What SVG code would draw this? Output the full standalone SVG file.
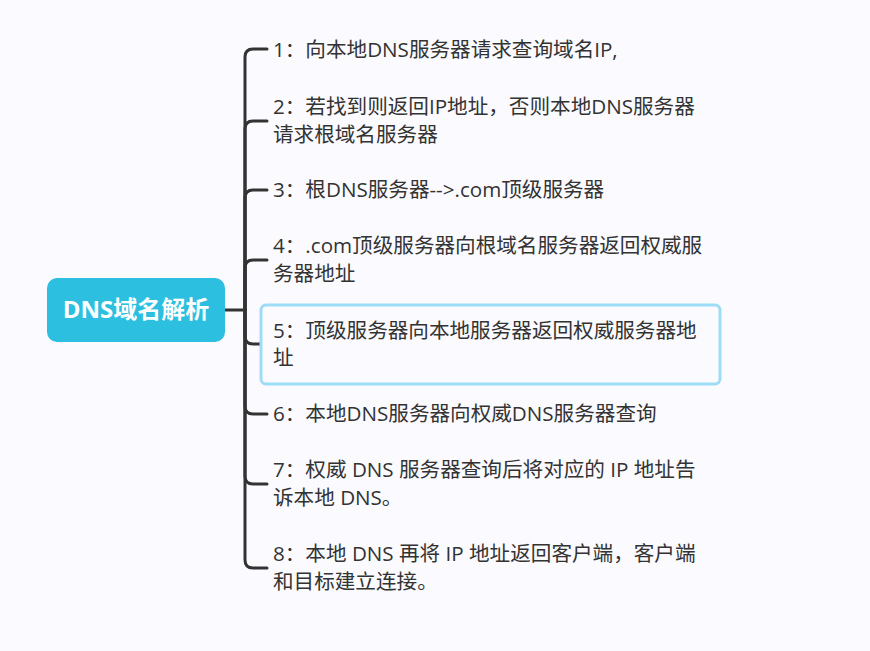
<svg xmlns="http://www.w3.org/2000/svg" width="870" height="651" viewBox="0 0 870 651">
<style>
.t{font-family:"Open Sans","Noto Sans CJK SC",sans-serif;font-size:20.6px;fill:#333333}
.root{font-family:"Open Sans","Noto Sans CJK SC",sans-serif;font-size:24px;font-weight:bold;fill:#ffffff}
.c{fill:none;stroke:#333333;stroke-width:3;stroke-linecap:round}
</style>
<rect width="870" height="651" fill="#fafaff"/>
<g id="connectors">
<path class="c" d="M225 310 H245"/>
<path class="c" d="M245 310 V57 Q245 49 253 49 H267"/>
<path class="c" d="M245 310 V129 Q245 121 253 121 H267"/>
<path class="c" d="M245 310 V198 Q245 190 253 190 H267"/>
<path class="c" d="M245 310 V268 Q245 260 253 260 H267"/>
<path class="c" d="M245 310 V336 Q245 344 253 344 H267"/>
<path class="c" d="M245 310 V406 Q245 414 253 414 H267"/>
<path class="c" d="M245 310 V476 Q245 484 253 484 H267"/>
<path class="c" d="M245 310 V560 Q245 568 253 568 H267"/>
</g>
<g id="root">
<rect x="47" y="278" width="178" height="64" rx="10" fill="#2cbfe0"/>
<text class="root" x="136" y="318" text-anchor="middle">DNS域名解析</text>
</g>
<g id="n1"><text class="t" x="273" y="57">1：向本地DNS服务器请求查询域名IP,</text></g>
<g id="n2"><text class="t" x="273" y="114">2：若找到则返回IP地址，否则本地DNS服务器</text><text class="t" x="273" y="142">请求根域名服务器</text></g>
<g id="n3"><text class="t" x="273" y="197">3：根DNS服务器--&gt;.com顶级服务器</text></g>
<g id="n4"><text class="t" x="273" y="253">4：.com顶级服务器向根域名服务器返回权威服</text><text class="t" x="273" y="281">务器地址</text></g>
<g id="n5"><rect x="261" y="305" width="459" height="79" rx="5" fill="#fafaff" stroke="#9ddcf7" stroke-width="3"/><text class="t" x="273" y="338">5：顶级服务器向本地服务器返回权威服务器地</text><text class="t" x="273" y="365">址</text></g>
<g id="n6"><text class="t" x="273" y="421">6：本地DNS服务器向权威DNS服务器查询</text></g>
<g id="n7"><text class="t" x="273" y="477">7：权威 DNS 服务器查询后将对应的 IP 地址告</text><text class="t" x="273" y="505">诉本地 DNS。</text></g>
<g id="n8"><text class="t" x="273" y="561">8：本地 DNS 再将 IP 地址返回客户端，客户端</text><text class="t" x="273" y="589">和目标建立连接。</text></g>
</svg>
